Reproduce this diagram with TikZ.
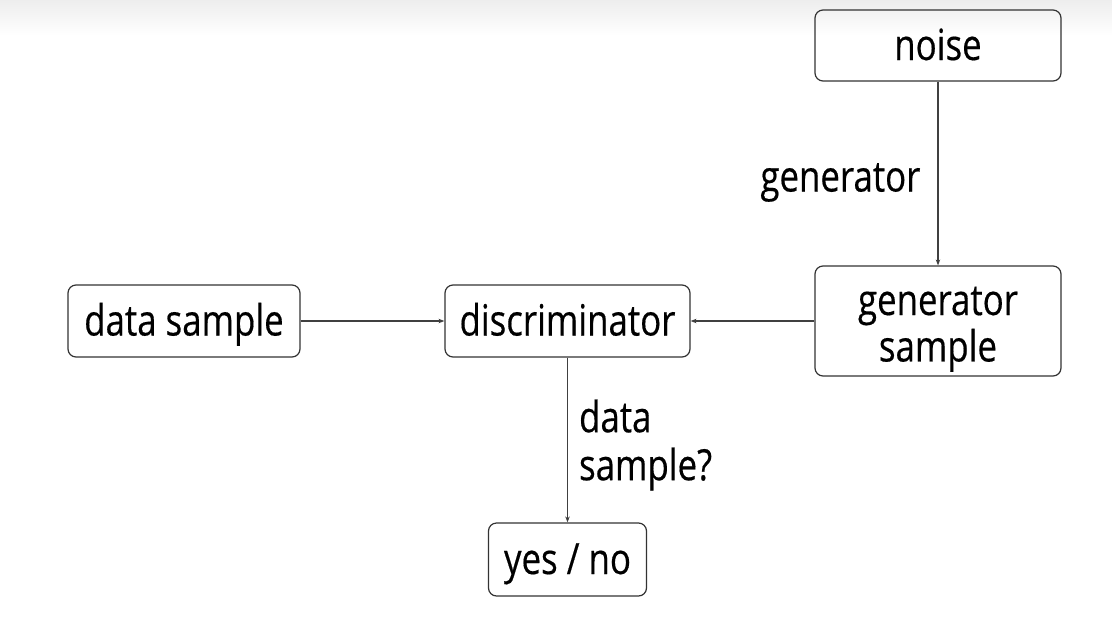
\documentclass[tikz,border=0pt]{standalone}
\usepackage{fontspec}
\setmainfont{Open Sans}[FakeStretch=0.81,FakeBold=0.4]
\usetikzlibrary{arrows.meta}
\newcommand{\dn}[1]{\raisebox{-14.5pt}[0pt][0pt]{#1}}
\begin{document}
\begin{tikzpicture}[x=1pt,y=-1pt,
  box/.style={draw=black!80, line width=1.2pt, rounded corners=8pt, align=center,
    inner sep=0pt, font=\fontsize{43}{46}\selectfont},
  conn/.style={draw=black!75, line width=1.2pt, -{Stealth[length=6pt,width=4.5pt]}},
  lbl/.style={inner sep=0pt, align=left, font=\fontsize{43}{48}\selectfont}]
\useasboundingbox (0,0) rectangle (1112,622);
\shade[top color=black!7, bottom color=white] (0,0) rectangle (1112,35);
\node[box, minimum width=246pt, minimum height=71pt] (noise) at (938,45.5) {\dn{noise}};
\node[box, minimum width=232pt, minimum height=72pt] (data) at (184,321) {\dn{data sample}};
\node[box, minimum width=245pt, minimum height=72pt] (disc) at (567.5,321) {\dn{discriminator}};
\node[box, minimum width=246pt, minimum height=110pt] (gen) at (938,321)
  {\raisebox{6pt}[0pt][0pt]{\begin{tabular}[t]{@{}c@{}}generator\\sample\end{tabular}}};
\node[box, minimum width=158pt, minimum height=73pt] (yn) at (567.5,559.5) {\dn{yes / no}};
\draw[conn] (noise) -- node[lbl, midway, left, xshift=-17pt, yshift=-9pt] (glabel) {generator} (gen);
\draw[conn] (data) -- (disc);
\draw[conn] (gen) -- (disc);
\draw[conn] (disc) -- node[lbl, midway, right, xshift=11pt, yshift=-5pt] (dlabel) {data\\sample?} (yn);
\end{tikzpicture}
\end{document}
